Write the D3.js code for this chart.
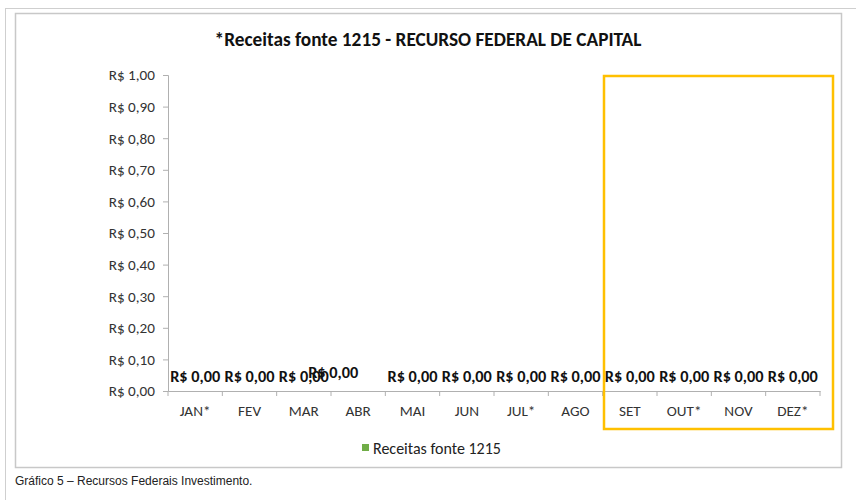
<!DOCTYPE html>
<html><head>
<meta charset="utf-8">
<script src="https://d3js.org/d3.v7.min.js"></script>
<style>
  body { margin: 0; background: #fff; }
  text { font-family: Carlito, Calibri, "Open Sans", sans-serif; }
</style>
</head>
<body>
<svg id="chart" width="856" height="500"></svg>
<script>
  const months = ["JAN*", "FEV", "MAR", "ABR", "MAI", "JUN", "JUL*", "AGO", "SET", "OUT*", "NOV", "DEZ*"];
  const receitas = [0, 0, 0, 0, 0, 0, 0, 0, 0, 0, 0, 0];
  const yTicks = [0, 0.1, 0.2, 0.3, 0.4, 0.5, 0.6, 0.7, 0.8, 0.9, 1.0];

  const svg = d3.select("#chart");
  const brl = v => "R$ " + v.toFixed(2).replace(".", ",");

  // outer page frame
  svg.append("line").attr("x1", 5).attr("x2", 856).attr("y1", 8.5).attr("y2", 8.5).attr("stroke", "#cfcfcf");
  svg.append("line").attr("x1", 5.5).attr("x2", 5.5).attr("y1", 8).attr("y2", 500).attr("stroke", "#cfcfcf");
  // chart area border
  svg.append("rect").attr("x", 15.5).attr("y", 13.5).attr("width", 826).attr("height", 454)
     .attr("fill", "#fff").attr("stroke", "#c8c8c8").attr("stroke-width", 1.5);

  const x = d3.scaleBand().domain(months).range([168, 820]);
  const y = d3.scaleLinear().domain([0, 1]).range([391, 75]);

  svg.append("text").attr("x", 428).attr("y", 46).attr("text-anchor", "middle")
     .attr("font-size", 19.3).attr("font-weight", "bold").attr("fill", "#111")
     .text("*Receitas fonte 1215 - RECURSO FEDERAL DE CAPITAL");

  // y axis
  const yAxis = svg.append("g").attr("transform", "translate(168,0)")
     .call(d3.axisLeft(y).tickValues(yTicks).tickFormat(brl).tickSize(5).tickPadding(8));
  yAxis.select(".domain").attr("stroke", "#b0b0b0");
  yAxis.selectAll(".tick line").attr("stroke", "#b0b0b0");
  yAxis.selectAll(".tick text").attr("font-size", 15.2).attr("fill", "#333")
     .style("font-family", "Carlito, Calibri, 'Open Sans', sans-serif");

  // x axis
  const xAxis = svg.append("g").attr("transform", "translate(0,391)")
     .call(d3.axisBottom(x).tickSize(0).tickPadding(14));
  xAxis.select(".domain").attr("stroke", "#b0b0b0");
  xAxis.selectAll(".tick text").attr("font-size", 15.2).attr("fill", "#333")
     .style("font-family", "Carlito, Calibri, 'Open Sans', sans-serif");
  // boundary ticks between categories
  svg.append("g").selectAll("line").data(months.concat(["end"])).join("line")
     .attr("x1", (d, i) => 168 + i * x.step()).attr("x2", (d, i) => 168 + i * x.step())
     .attr("y1", 391).attr("y2", 396).attr("stroke", "#b0b0b0");

  // bars (all zero)
  svg.append("g").selectAll("rect").data(receitas).join("rect")
     .attr("x", (d, i) => x(months[i]) + x.bandwidth() * 0.2)
     .attr("width", x.bandwidth() * 0.6)
     .attr("y", d => y(d)).attr("height", d => y(0) - y(d))
     .attr("fill", "#70ad47");

  // value labels (ABR label was moved by hand in the original)
  svg.append("g").selectAll("text").data(receitas).join("text")
     .attr("x", (d, i) => x(months[i]) + x.bandwidth() / 2 + (months[i] === "ABR" ? -25 : 0))
     .attr("y", (d, i) => y(d) - (months[i] === "ABR" ? 13 : 9))
     .attr("text-anchor", "middle").attr("font-size", 16.3).attr("font-weight", "bold").attr("fill", "#111")
     .text(brl);

  // highlight box
  svg.append("rect").attr("x", 604).attr("y", 76).attr("width", 229).attr("height", 353)
     .attr("fill", "none").attr("stroke", "#ffc000").attr("stroke-width", 2.5);

  // legend
  svg.append("rect").attr("x", 362).attr("y", 444).attr("width", 7).attr("height", 7).attr("fill", "#70ad47");
  svg.append("text").attr("x", 373).attr("y", 454).attr("font-size", 16).attr("fill", "#222")
     .text("Receitas fonte 1215");

  // caption
  svg.append("text").attr("x", 15).attr("y", 485).attr("font-size", 12)
     .style("font-family", "'Liberation Sans', Arial, sans-serif").attr("fill", "#222")
     .text("Gráfico 5 – Recursos Federais Investimento.");
</script>
</body>
</html>
